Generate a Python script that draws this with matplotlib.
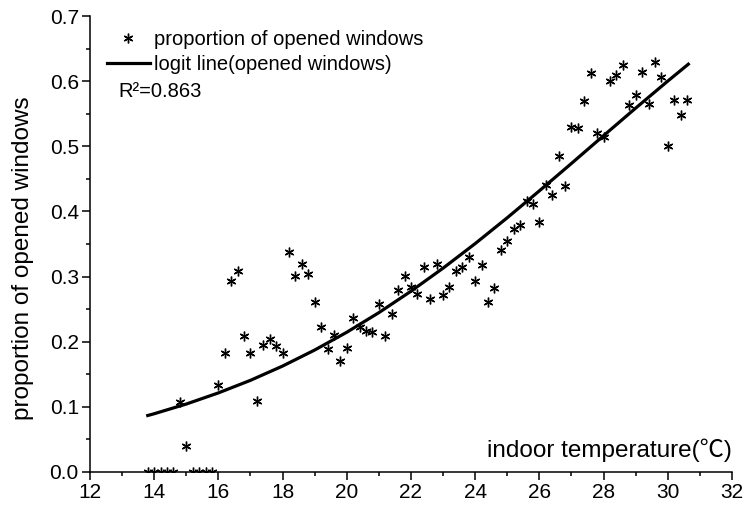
import matplotlib
matplotlib.use('Agg')
import matplotlib.pyplot as plt
from matplotlib.ticker import MultipleLocator, FormatStrFormatter

plt.rcParams['font.family'] = ['Liberation Sans', 'DejaVu Sans']

# indoor temperature (C) and proportion of opened windows
temp = [13.8, 14.0, 14.2, 14.4, 14.6, 14.8, 15.0, 15.2, 15.4, 15.6, 15.8,
        16.0, 16.2, 16.4, 16.6, 16.8, 17.0, 17.2, 17.4, 17.6, 17.8,
        18.0, 18.2, 18.4, 18.6, 18.8, 19.0, 19.2, 19.4, 19.6, 19.8,
        20.0, 20.2, 20.4, 20.6, 20.8, 21.0, 21.2, 21.4, 21.6, 21.8,
        22.0, 22.2, 22.4, 22.6, 22.8, 23.0, 23.2, 23.4, 23.6, 23.8,
        24.0, 24.2, 24.4, 24.6, 24.8, 25.0, 25.2, 25.4, 25.6, 25.8,
        26.0, 26.2, 26.4, 26.6, 26.8, 27.0, 27.2, 27.4, 27.6, 27.8,
        28.0, 28.2, 28.4, 28.6, 28.8, 29.0, 29.2, 29.4, 29.6, 29.8,
        30.0, 30.2, 30.4, 30.6]
opened = [0.0, 0.0, 0.0, 0.0, 0.0, 0.107, 0.040, 0.0, 0.0, 0.0, 0.0,
          0.134, 0.182, 0.293, 0.309, 0.209, 0.183, 0.109, 0.195, 0.204, 0.194,
          0.183, 0.338, 0.301, 0.319, 0.304, 0.261, 0.222, 0.189, 0.210, 0.170,
          0.191, 0.236, 0.222, 0.216, 0.215, 0.258, 0.209, 0.243, 0.279, 0.301,
          0.284, 0.273, 0.315, 0.265, 0.320, 0.271, 0.284, 0.309, 0.315, 0.330,
          0.293, 0.317, 0.261, 0.283, 0.341, 0.355, 0.373, 0.379, 0.416, 0.411,
          0.384, 0.441, 0.425, 0.485, 0.439, 0.530, 0.528, 0.570, 0.613, 0.521,
          0.515, 0.600, 0.609, 0.625, 0.564, 0.578, 0.614, 0.565, 0.630, 0.607,
          0.500, 0.571, 0.548, 0.571]

# logit line
fit_temp = [13.8, 14, 15, 16, 17, 18, 19, 20, 21, 22, 23, 24, 25, 26, 27,
            28, 29, 30, 30.64]
fit_prop = [0.0867, 0.0894, 0.1043, 0.1214, 0.1407, 0.1626, 0.1872, 0.2145,
            0.2446, 0.2775, 0.3129, 0.3506, 0.3903, 0.4316, 0.4737, 0.5163,
            0.5586, 0.6001, 0.626]

fig = plt.figure(figsize=(7.46, 5.08), dpi=100)
ax = fig.add_axes([0.1206, 0.0709, 0.8606, 0.8976])

star = (6, 2, 0)
ax.plot(temp, opened, linestyle='none', marker=star, markersize=7,
        markeredgewidth=1.0, color='black', label='proportion of opened windows')
ax.plot(fit_temp, fit_prop, color='black', linewidth=2.3,
        label='logit line(opened windows)')

ax.set_xlim(12, 32)
ax.set_ylim(0, 0.7)
ax.xaxis.set_major_locator(MultipleLocator(2))
ax.xaxis.set_minor_locator(MultipleLocator(1))
ax.yaxis.set_major_locator(MultipleLocator(0.1))
ax.yaxis.set_minor_locator(MultipleLocator(0.05))
ax.yaxis.set_major_formatter(FormatStrFormatter('%.1f'))

for side in ['top', 'right']:
    ax.spines[side].set_visible(False)
for side in ['left', 'bottom']:
    ax.spines[side].set_linewidth(1.1)

ax.tick_params(which='major', direction='out', length=6, width=1.1,
               labelsize=15, pad=2)
ax.tick_params(which='minor', direction='out', length=3, width=1.1)

ax.set_ylabel('proportion of opened windows', fontsize=17.5)
ax.yaxis.set_label_coords(-0.087, 0.469)
ax.text(1.0, 0.033, 'indoor temperature(℃)', transform=ax.transAxes,
        ha='right', va='baseline', fontsize=17.5,
        family=['Liberation Sans', 'Noto Sans CJK SC'])

ax.legend(loc='upper left', bbox_to_anchor=(0.026, 0.97), frameon=False,
          fontsize=14.5, borderpad=0, borderaxespad=0, handlelength=2.15,
          handletextpad=0.2, labelspacing=0.32)
ax.text(0.0436, 0.822, 'R²=0.863', transform=ax.transAxes, ha='left',
        va='baseline', fontsize=14.5)

fig.savefig('out.png', dpi=100)
